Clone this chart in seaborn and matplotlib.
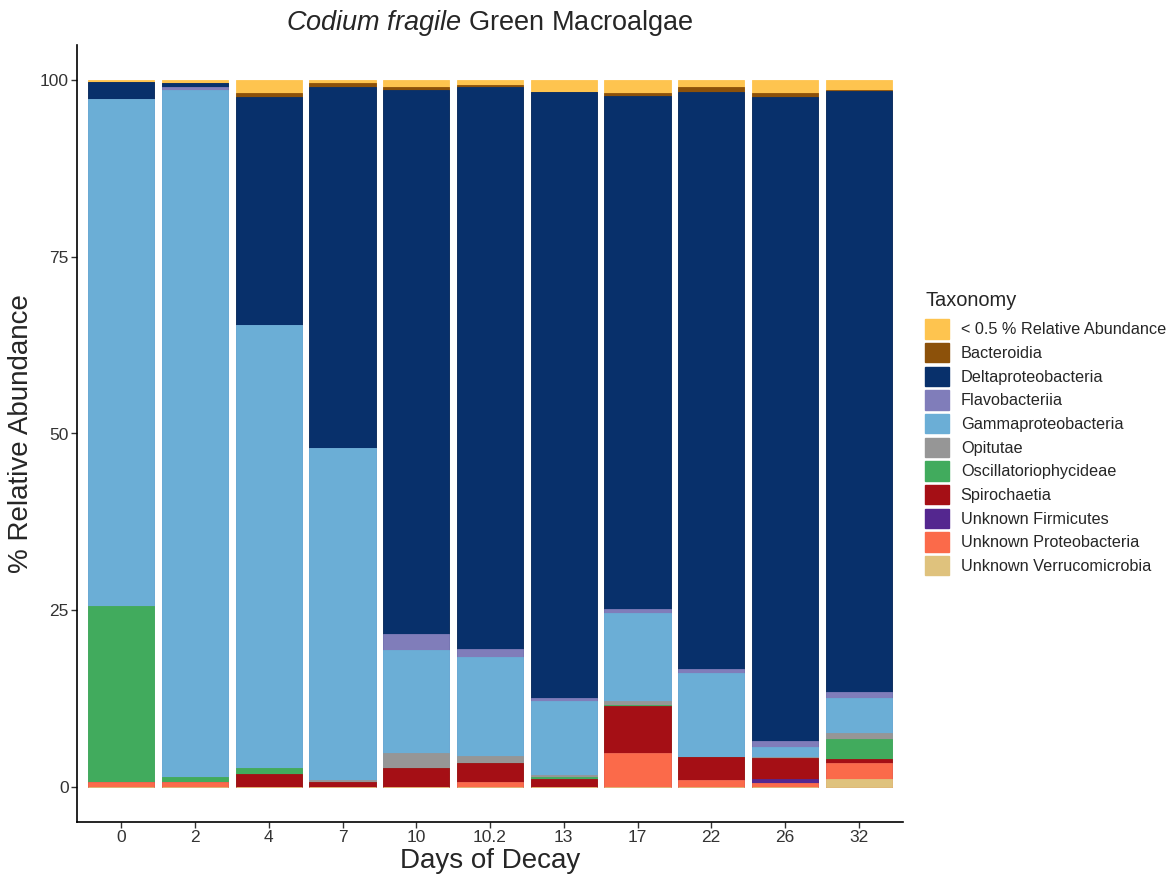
import numpy as np
import pandas as pd
import matplotlib
matplotlib.use("Agg")
import matplotlib.pyplot as plt
import seaborn as sns
from matplotlib.patches import Patch

days = ["0", "2", "4", "7", "10", "10.2", "13", "17", "22", "26", "32"]

# stacking order, bottom first
taxa = ["Unknown Verrucomicrobia", "Unknown Proteobacteria", "Unknown Firmicutes",
        "Spirochaetia", "Oscillatoriophycideae", "Opitutae", "Gammaproteobacteria",
        "Flavobacteriia", "Deltaproteobacteria", "Bacteroidia", "< 0.5 % Relative Abundance"]

verruco = [0, 0, 0, 0, 0, 0, 0, 0, 0, 0, 1.1]
unk_proteo = [0.6, 0.6, 0, 0, 0, 0.7, 0, 4.8, 1.0, 0.5, 2.3]
firmicutes = [0, 0, 0, 0, 0, 0, 0, 0, 0, 0.6, 0]
spirochaetia = [0, 0, 1.8, 0.7, 2.7, 2.6, 1.1, 6.6, 3.2, 3.0, 0.5]
oscillato = [25.0, 0.7, 0.8, 0, 0, 0.1, 0.3, 0.2, 0, 0, 2.8]
opitutae = [0, 0, 0, 0.2, 2.0, 0.9, 0.2, 0.5, 0, 0.1, 0.9]
gamma = [71.7, 97.4, 62.8, 47.1, 14.7, 14.0, 10.5, 12.5, 11.9, 1.4, 4.9]
flavo = [0, 0.3, 0, 0, 2.2, 1.2, 0.4, 0.6, 0.6, 0.9, 0.9]
delta = [2.4, 0.6, 32.2, 51.0, 77.1, 79.5, 85.9, 72.6, 81.7, 91.2, 85.1]
bacteroidia = [0, 0, 0.6, 0.6, 0.4, 0.4, 0, 0.4, 0.7, 0.5, 0.1]
other = [0.3, 0.4, 1.8, 0.4, 0.9, 0.6, 1.6, 1.8, 0.9, 1.8, 1.4]

colors = ["#DFC27D", "#FB6A4A", "#54278F", "#A50F15", "#41AB5D", "#969696",
          "#6BAED6", "#807DBA", "#08306B", "#8C510A", "#FEC44F"]

df = pd.DataFrame({"day": days})
for name, vals in zip(taxa, [verruco, unk_proteo, firmicutes, spirochaetia, oscillato,
                             opitutae, gamma, flavo, delta, bacteroidia, other]):
    df[name] = vals

# cumulative tops for overlaid bars
cum = df[taxa].cumsum(axis=1)
cum["day"] = df["day"]

sns.set_theme(style="ticks")
plt.rcParams["font.family"] = ["Liberation Sans", "DejaVu Sans"]
plt.rcParams["mathtext.fontset"] = "custom"
plt.rcParams["mathtext.it"] = "Liberation Sans:italic"
plt.rcParams["mathtext.rm"] = "Liberation Sans"

fig = plt.figure(figsize=(11.7, 8.83), dpi=100)
ax = fig.add_axes([77 / 1170, 1 - 822 / 883, (903 - 77) / 1170, (822 - 45) / 883])

for name, col in reversed(list(zip(taxa, colors))):
    sns.barplot(data=cum, x="day", y=name, order=days, color=col, width=0.9,
                saturation=1, edgecolor=col, linewidth=0.6, ax=ax)

ax.set_xlim(-0.6, len(days) - 0.4)
ax.set_ylim(-5, 105)
ax.set_yticks([0, 25, 50, 75, 100])
ax.set_xlabel("Days of Decay", fontsize=20, labelpad=2)
ax.set_ylabel("% Relative Abundance", fontsize=20, labelpad=4)
ax.tick_params(axis="both", labelsize=12.5, length=4, width=1, color="#333333",
               labelcolor="#333333", pad=2)
for s in ["top", "right"]:
    ax.spines[s].set_visible(False)
for s in ["left", "bottom"]:
    ax.spines[s].set_linewidth(1.2)
    ax.spines[s].set_color("black")

ax.set_title(r"$\it{Codium\ fragile}$ Green Macroalgae", fontsize=19.5, pad=11)

handles = [Patch(facecolor=c, edgecolor=c, label=t) for t, c in zip(taxa, colors)][::-1]
leg = ax.legend(handles=handles, title="Taxonomy", loc="upper left",
                bbox_to_anchor=(925 / 1170, 1 - 291 / 883), bbox_transform=fig.transFigure,
                frameon=False, fontsize=11.7, title_fontsize=14.4, borderpad=0,
                handlelength=1.45, handleheight=1.45, labelspacing=0.27,
                handletextpad=0.75, borderaxespad=0, alignment="left")
leg._legend_box.sep += 3.5  # a bit more room under the title

fig.savefig("out.png", dpi=100)
